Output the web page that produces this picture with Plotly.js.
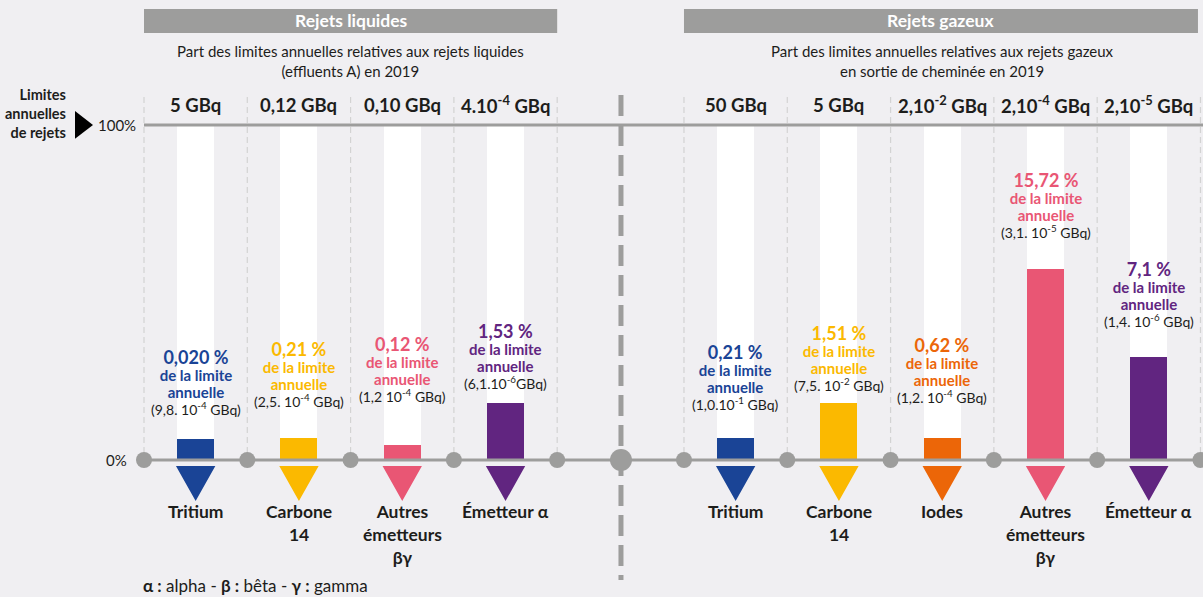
<!DOCTYPE html>
<html>
<head>
<meta charset="utf-8">
<script src="https://cdn.plot.ly/plotly-3.0.1.min.js"></script>
<style>html,body{margin:0;padding:0;background:#f0eff2;}#chart{width:1203px;height:597px;}</style>
</head>
<body>
<div id="chart"></div>
<script>
// ---------- DATA ----------
const liquidCategories = ['Tritium', 'Carbone<br>14', 'Autres<br>émetteurs<br>βγ', 'Émetteur α'];
const gasCategories = ['Tritium', 'Carbone<br>14', 'Iodes', 'Autres<br>émetteurs<br>βγ', 'Émetteur α'];
const liquidLimits = ['5 GBq', '0,12 GBq', '0,10 GBq', '4.10<sup>-4</sup> GBq'];
const gasLimits = ['50 GBq', '5 GBq', '2,10<sup>-2</sup> GBq', '2,10<sup>-4</sup> GBq', '2,10<sup>-5</sup> GBq'];
const liquidPercent = ['0,020 %', '0,21 %', '0,12 %', '1,53 %'];
const gasPercent = ['0,21 %', '1,51 %', '0,62 %', '15,72 %', '7,1 %'];
const liquidActivity = ['(9,8. 10<sup>-4</sup> GBq)', '(2,5. 10<sup>-4</sup> GBq)', '(1,2 10<sup>-4</sup> GBq)', '(6,1.10<sup>-6</sup>GBq)'];
const gasActivity = ['(1,0.10<sup>-1</sup> GBq)', '(7,5. 10<sup>-2</sup> GBq)', '(1,2. 10<sup>-4</sup> GBq)', '(3,1. 10<sup>-5</sup> GBq)', '(1,4. 10<sup>-6</sup> GBq)'];
// displayed bar heights (share of the 0–100 % scale as drawn)
const liquidBarHeight = [6.3, 6.6, 4.5, 17.0];
const gasBarHeight = [6.6, 17.0, 6.6, 57.0, 30.7];

// ---------- STYLE ----------
const liquidColors = ['#1a4496', '#fbb900', '#e95674', '#612580'];
const gasColors = ['#1a4496', '#fbb900', '#ec6608', '#e95674', '#612580'];
const labelLift = [28, 35, 47, 18, 32, 16, 39, 35, 34]; // px from bar top to last label line
const GREY = '#9d9d9c', DARK = '#1d1d1b', BG = '#f0eff2';
const FONT = 'Lato, "Open Sans", sans-serif';

// ---------- GEOMETRY HELPERS (full-canvas plot) ----------
const XR = [-1.894, 9.752], YR = [-40.9, 137.3];
const X = px => (px - 144) / 103.3 - 0.5;
const Y = py => (460 - py) / 3.35;
const gasStart = X(684) + 0.5;             // centre of first gas column
const liqX = liquidCategories.map((_, i) => i);
const gasX = gasCategories.map((_, j) => gasStart + j);
const allX = liqX.concat(gasX);
const allH = liquidBarHeight.concat(gasBarHeight);
const allC = liquidColors.concat(gasColors);
const allCat = liquidCategories.concat(gasCategories);
const allLim = liquidLimits.concat(gasLimits);
const allPct = liquidPercent.concat(gasPercent);
const allAct = liquidActivity.concat(gasActivity);
const liqB = [0, 1, 2, 3, 4].map(i => i - 0.5);
const gasB = [0, 1, 2, 3, 4, 5].map(j => gasStart - 0.5 + j);
const divX = X(621);
const BW = 0.358;

const traces = [];
// grid dashed lines
const gx = [], gy = [];
liqB.concat(gasB).forEach(b => { gx.push(b, b, null); gy.push(Y(97), 0, null); });
traces.push({x: gx, y: gy, mode: 'lines', line: {color: '#d3d3d3', width: 1.2, dash: '6px,4px'}, hoverinfo: 'skip'});
// white 100% background bars
traces.push({type: 'bar', x: allX, y: allX.map(() => 100), width: BW, marker: {color: '#ffffff'}, hoverinfo: 'skip'});
// coloured bars
traces.push({type: 'bar', x: allX, y: allH, width: BW, marker: {color: allC}, hoverinfo: 'skip'});
// 100% line and 0 line
traces.push({x: [-0.5, XR[1]], y: [100, 100], mode: 'lines', line: {color: GREY, width: 3}, hoverinfo: 'skip'});
traces.push({x: [-0.5, XR[1]], y: [0, 0], mode: 'lines', line: {color: GREY, width: 3}, hoverinfo: 'skip'});
// divider
traces.push({x: [divX, divX], y: [Y(95), Y(580)], mode: 'lines', line: {color: GREY, width: 5, dash: '21px,9px'}, hoverinfo: 'skip'});
// dots
traces.push({x: liqB.concat(gasB), y: liqB.concat(gasB).map(() => 0), mode: 'markers', marker: {color: GREY, size: 16}, hoverinfo: 'skip'});
traces.push({x: [divX], y: [0], mode: 'markers', marker: {color: GREY, size: 22}, hoverinfo: 'skip'});
// black pointer triangle
traces.push({x: [X(81)], y: [Y(125)], mode: 'markers', marker: {symbol: 'triangle-right', color: '#000', size: 24}, hoverinfo: 'skip'});

// ---------- SHAPES ----------
const shapes = [];
const hw = 0.174;
allX.forEach((x, i) => {
  shapes.push({type: 'path', xref: 'x', yref: 'y',
    path: `M ${x - hw},${Y(467)} L ${x + hw},${Y(467)} L ${x},${Y(499)} Z`,
    fillcolor: allC[i], line: {color: allC[i], width: 2, join: 'round'}});
});
shapes.push({type: 'rect', xref: 'x', yref: 'y', x0: liqB[0], x1: liqB[4], y0: Y(33), y1: Y(9), fillcolor: GREY, line: {width: 0}, layer: 'below'});
shapes.push({type: 'rect', xref: 'x', yref: 'y', x0: gasB[0], x1: X(1198), y0: Y(33), y1: Y(9), fillcolor: GREY, line: {width: 0}, layer: 'below'});

// ---------- ANNOTATIONS ----------
const ann = [];
const A = o => ann.push(Object.assign({xref: 'x', yref: 'y', showarrow: false, font: {family: FONT, size: 15, color: DARK}}, o));
A({x: 1.5, y: Y(21), text: '<b>Rejets liquides</b>', font: {family: FONT, size: 17.5, color: '#fff'}});
A({x: (gasB[0] + X(1198)) / 2, y: Y(21), text: '<b>Rejets gazeux</b>', font: {family: FONT, size: 17.5, color: '#fff'}});
A({x: 1.5, y: Y(61), text: 'Part des limites annuelles relatives aux rejets liquides<br>(effluents A) en 2019', font: {family: FONT, size: 15, color: DARK}});
A({x: (gasB[0] + gasB[5]) / 2, y: Y(61), text: 'Part des limites annuelles relatives aux rejets gazeux<br>en sortie de cheminée en 2019', font: {family: FONT, size: 15, color: DARK}});
A({x: X(68), y: Y(114), xanchor: 'right', align: 'right', text: '<b>Limites<br>annuelles<br>de rejets</b>', font: {family: FONT, size: 14.5, color: DARK}});
A({x: X(96), y: Y(125), xanchor: 'left', text: '100%', font: {family: FONT, size: 15, color: DARK}});
A({x: X(129), y: 0, xanchor: 'right', text: '0%', font: {family: FONT, size: 15, color: DARK}});
A({x: X(141), y: Y(586), xanchor: 'left', text: '<b>α :</b> alpha - <b>β :</b> bêta - <b>γ :</b> gamma', font: {family: FONT, size: 17, color: DARK}});
allX.forEach((x, i) => {
  A({x: x, y: Y(105), text: '<b>' + allLim[i] + '</b>', font: {family: FONT, size: 18.5, color: DARK}});
  A({x: x, y: Y(499), yanchor: 'top', text: '<b>' + allCat[i] + '</b>', font: {family: FONT, size: 17.5, color: DARK}});
  A({x: x, y: allH[i], yanchor: 'bottom', yshift: labelLift[i] - 9,
    text: `<span style="font-size:18px"><b>${allPct[i]}</b></span><br><span style="font-size:15px"><b>de la limite</b></span><br><span style="font-size:15px"><b>annuelle</b></span><br><span style="color:${DARK};font-size:14px">${allAct[i]}</span>`,
    font: {family: FONT, size: 13, color: allC[i]}});
});

const layout = {
  width: 1203, height: 597, margin: {l: 0, r: 0, t: 0, b: 0},
  paper_bgcolor: BG, plot_bgcolor: BG, showlegend: false, barmode: 'overlay', bargap: 0,
  xaxis: {range: XR, visible: false, fixedrange: true},
  yaxis: {range: YR, visible: false, fixedrange: true},
  shapes: shapes, annotations: ann, font: {family: FONT}
};
Plotly.newPlot('chart', traces, layout, {displayModeBar: false, staticPlot: true});
</script>
</body>
</html>
